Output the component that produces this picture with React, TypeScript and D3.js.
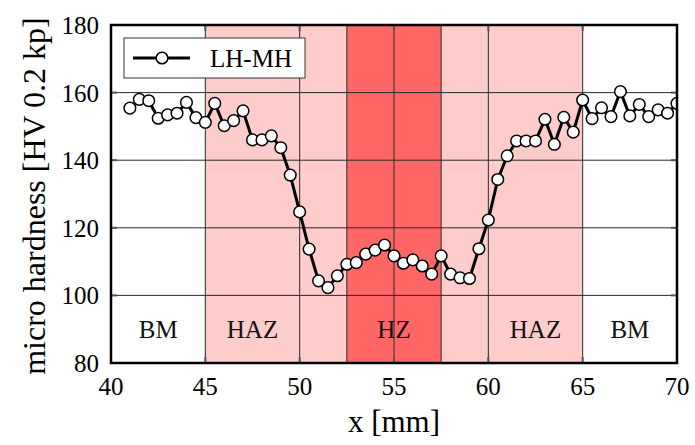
import React, { useEffect, useRef } from "react";
import * as d3 from "d3";

// measured positions along the sample [mm]
const xValues: number[] = [
  41, 41.5, 42, 42.5, 43, 43.5, 44, 44.5, 45, 45.5, 46, 46.5, 47, 47.5, 48, 48.5,
  49, 49.5, 50, 50.5, 51, 51.5, 52, 52.5, 53, 53.5, 54, 54.5, 55, 55.5, 56, 56.5,
  57, 57.5, 58, 58.5, 59, 59.5, 60, 60.5, 61, 61.5, 62, 62.5, 63, 63.5, 64, 64.5,
  65, 65.5, 66, 66.5, 67, 67.5, 68, 68.5, 69, 69.5, 70,
];

// LH-MH micro hardness [HV 0.2 kp]
const hardness: number[] = [
  155.4, 158.0, 157.6, 152.4, 153.4, 153.9, 157.1, 152.6, 151.2, 156.8, 150.2, 151.7,
  154.6, 146.0, 146.0, 147.2, 143.7, 135.6, 124.7, 113.7, 104.3, 102.3, 105.8, 109.2,
  109.7, 112.2, 113.4, 114.9, 111.7, 109.5, 110.5, 108.7, 106.3, 111.7, 106.3, 105.2,
  105.0, 113.8, 122.3, 134.3, 141.3, 145.7, 145.7, 145.7, 152.1, 144.7, 152.7, 148.3,
  157.8, 152.3, 155.5, 152.9, 160.3, 153.1, 156.5, 152.9, 154.9, 153.9, 156.8,
];

const zoneNames: string[] = ["BM", "HAZ", "HZ", "HAZ", "BM"];
const zoneStart: number[] = [40, 45, 52.5, 57.5, 65];
const zoneEnd: number[] = [45, 52.5, 57.5, 65, 70];
const zoneLabelX: number[] = [42.5, 47.5, 55, 62.5, 67.5];
const zoneColors: string[] = ["#ffffff", "#ffcccc", "#ff6666", "#ffcccc", "#ffffff"];

const xTicks: number[] = [40, 45, 50, 55, 60, 65, 70];
const yTicks: number[] = [80, 100, 120, 140, 160, 180];
const seriesName = "LH-MH";

const W = 695;
const H = 445;
const FONT = "'Liberation Serif', 'Times New Roman', serif";

const App = () => {
  const svgRef = useRef<SVGSVGElement>(null);

  useEffect(() => {
    const svg = d3.select(svgRef.current);
    svg.selectAll("*").remove();

    const left = 111, right = 677, top = 25, bottom = 363;
    const x = d3.scaleLinear().domain([40, 70]).range([left, right]);
    const y = d3.scaleLinear().domain([80, 180]).range([bottom, top]);

    svg.append("rect").attr("width", W).attr("height", H).attr("fill", "#fff");

    // zone backgrounds
    svg
      .selectAll("rect.zone")
      .data(zoneNames)
      .enter()
      .append("rect")
      .attr("class", "zone")
      .attr("x", (d, i) => x(zoneStart[i]))
      .attr("y", top)
      .attr("width", (d, i) => x(zoneEnd[i]) - x(zoneStart[i]))
      .attr("height", bottom - top)
      .attr("fill", (d, i) => zoneColors[i]);

    // grid
    const grid = svg.append("g").attr("stroke", "#2a2a2a").attr("stroke-width", 1);
    yTicks
      .filter((t) => t > 80 && t < 180)
      .forEach((t) => {
        grid.append("line").attr("x1", left).attr("x2", right).attr("y1", y(t)).attr("y2", y(t));
      });
    const vlines = Array.from(new Set([...xTicks.filter((t) => t > 40 && t < 70), 52.5, 57.5]));
    vlines.forEach((t) => {
      grid.append("line").attr("x1", x(t)).attr("x2", x(t)).attr("y1", top).attr("y2", bottom);
    });

    // inward ticks
    const ticks = svg.append("g").attr("stroke", "#555").attr("stroke-width", 2);
    xTicks.forEach((t) => {
      ticks.append("line").attr("x1", x(t)).attr("x2", x(t)).attr("y1", bottom).attr("y2", bottom - 6);
      ticks.append("line").attr("x1", x(t)).attr("x2", x(t)).attr("y1", top).attr("y2", top + 6);
    });
    yTicks.forEach((t) => {
      ticks.append("line").attr("x1", left).attr("x2", left + 6).attr("y1", y(t)).attr("y2", y(t));
      ticks.append("line").attr("x1", right).attr("x2", right - 6).attr("y1", y(t)).attr("y2", y(t));
    });

    // zone labels
    svg
      .selectAll("text.zone")
      .data(zoneNames)
      .enter()
      .append("text")
      .attr("class", "zone")
      .attr("x", (d, i) => x(zoneLabelX[i]))
      .attr("y", 338)
      .attr("text-anchor", "middle")
      .style("font-family", FONT)
      .style("font-size", "25px")
      .style("fill", "#111")
      .text((d) => d);

    // data
    svg
      .append("clipPath")
      .attr("id", "plot-clip")
      .append("rect")
      .attr("x", left)
      .attr("y", top)
      .attr("width", right - left)
      .attr("height", bottom - top);

    const points = xValues.map((v, i) => ({ x: v, y: hardness[i] }));
    const line = d3
      .line<{ x: number; y: number }>()
      .x((d) => x(d.x))
      .y((d) => y(d.y));

    const dataG = svg.append("g").attr("clip-path", "url(#plot-clip)");
    dataG
      .append("path")
      .datum(points)
      .attr("d", line)
      .attr("fill", "none")
      .attr("stroke", "#000")
      .attr("stroke-width", 3)
      .attr("stroke-linejoin", "round");
    dataG
      .selectAll("circle")
      .data(points)
      .enter()
      .append("circle")
      .attr("cx", (d) => x(d.x))
      .attr("cy", (d) => y(d.y))
      .attr("r", 5.8)
      .attr("fill", "#fff")
      .attr("stroke", "#000")
      .attr("stroke-width", 1.5);

    // frame
    svg
      .append("rect")
      .attr("x", left)
      .attr("y", top)
      .attr("width", right - left)
      .attr("height", bottom - top)
      .attr("fill", "none")
      .attr("stroke", "#000")
      .attr("stroke-width", 2.5);

    // tick labels
    svg
      .selectAll("text.xt")
      .data(xTicks)
      .enter()
      .append("text")
      .attr("class", "xt")
      .attr("x", (d) => x(d))
      .attr("y", 395)
      .attr("text-anchor", "middle")
      .style("font-family", FONT)
      .style("font-size", "25px")
      .text((d) => d);
    svg
      .selectAll("text.yt")
      .data(yTicks)
      .enter()
      .append("text")
      .attr("class", "yt")
      .attr("x", 99)
      .attr("y", (d) => y(d) + 9)
      .attr("text-anchor", "end")
      .style("font-family", FONT)
      .style("font-size", "25px")
      .text((d) => d);

    // axis titles
    svg
      .append("text")
      .attr("x", (left + right) / 2)
      .attr("y", 432)
      .attr("text-anchor", "middle")
      .style("font-family", FONT)
      .style("font-size", "31px")
      .text("x [mm]");
    svg
      .append("text")
      .attr("transform", "translate(45,196) rotate(-90)")
      .attr("text-anchor", "middle")
      .style("font-family", FONT)
      .style("font-size", "32px")
      .text("micro hardness [HV 0.2 kp]");

    // legend
    const lg = svg.append("g");
    lg.append("rect")
      .attr("x", 124)
      .attr("y", 38)
      .attr("width", 181)
      .attr("height", 40)
      .attr("fill", "#fff")
      .attr("stroke", "#333")
      .attr("stroke-width", 1);
    lg.append("line")
      .attr("x1", 133)
      .attr("x2", 190)
      .attr("y1", 58)
      .attr("y2", 58)
      .attr("stroke", "#000")
      .attr("stroke-width", 3);
    lg.append("circle")
      .attr("cx", 162)
      .attr("cy", 58)
      .attr("r", 5.8)
      .attr("fill", "#fff")
      .attr("stroke", "#000")
      .attr("stroke-width", 1.5);
    lg.append("text")
      .attr("x", 210)
      .attr("y", 67)
      .style("font-family", FONT)
      .style("font-size", "25px")
      .text(seriesName);
  }, []);

  return (
    <svg
      ref={svgRef}
      width={W}
      height={H}
      style={{ position: "absolute", left: 0, top: 0 }}
    />
  );
};

export default App;
